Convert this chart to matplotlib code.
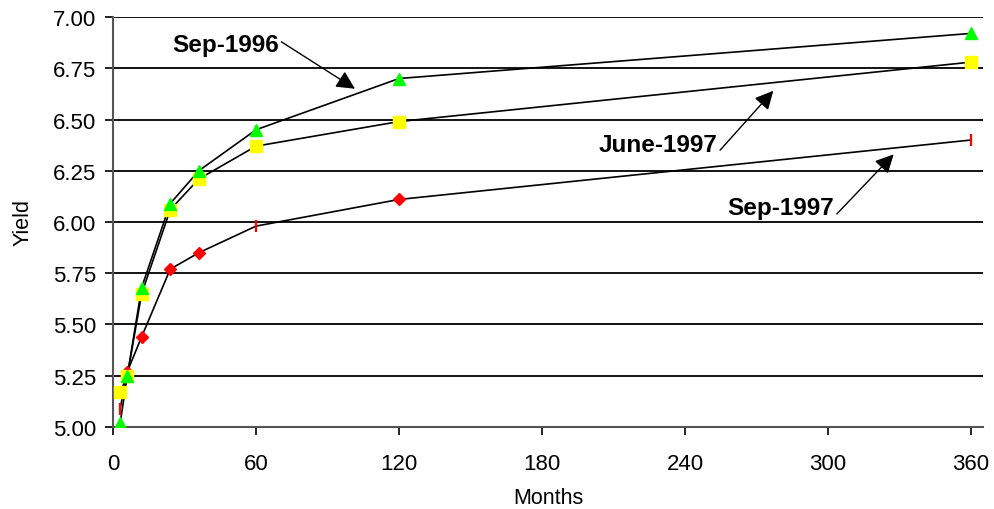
import numpy as np
import matplotlib
matplotlib.use('Agg')
import matplotlib.pyplot as plt

plt.rcParams['font.family'] = ['Liberation Sans', 'DejaVu Sans']

# --- DATA ---
months = [3, 6, 12, 24, 36, 60, 120, 360]
sep_1996 = [5.02, 5.25, 5.68, 6.09, 6.25, 6.45, 6.70, 6.92]
june_1997 = [5.17, 5.25, 5.65, 6.06, 6.21, 6.37, 6.49, 6.78]
sep_1997 = [5.09, 5.27, 5.44, 5.77, 5.85, 5.98, 6.11, 6.40]

y_ticks = [5.00, 5.25, 5.50, 5.75, 6.00, 6.25, 6.50, 6.75, 7.00]
x_ticks = [0, 60, 120, 180, 240, 300, 360]

# --- PLOT ---
fig = plt.figure(figsize=(9.95, 5.1), dpi=100)
ax = fig.add_axes([0.1136, 0.1608, 0.8744, 0.8039])

for yt in y_ticks:
    ax.axhline(yt, color='black', lw=1.3, zorder=1)

# Sep-1997 (red)
ax.plot(months, sep_1997, color='black', lw=1.2, zorder=2)
ax.plot(months, sep_1997, ls='none', marker='D', ms=6, color='#ff0000',
        markevery=[1, 2, 3, 4, 6], zorder=3)
ax.plot(months, sep_1997, ls='none', marker='|', ms=9, mew=1.6, color='#ff0000',
        markevery=[0, 5, 7], zorder=3)

# June-1997 (yellow)
ax.plot(months, june_1997, color='black', lw=1.2, zorder=2)
ax.plot(months, june_1997, ls='none', marker='s', ms=8, color='#ffff00', zorder=4)

# Sep-1996 (green)
ax.plot(months, sep_1996, color='black', lw=1.2, zorder=2)
ax.plot(months, sep_1996, ls='none', marker='^', ms=8, color='#00ff00', zorder=5)

ax.set_xlim(0, 365)
ax.set_ylim(5.0, 7.0)
ax.set_xticks(x_ticks)
ax.set_yticks(y_ticks)
ax.set_yticklabels(['%.2f' % v for v in y_ticks])
ax.tick_params(direction='out', length=6, width=1.2, labelsize=16, colors='black')
ax.tick_params(axis='x', pad=13)
ax.tick_params(axis='y', pad=6)

for s in ['top', 'right']:
    ax.spines[s].set_visible(False)
for s in ['left', 'bottom']:
    ax.spines[s].set_color('#555555')
    ax.spines[s].set_linewidth(1.5)

ax.set_xlabel('Months', fontsize=15.5, labelpad=9)
ax.set_ylabel('Yield', fontsize=15.5, labelpad=14)

arrow = dict(arrowstyle='-|>', color='black', lw=1.0, mutation_scale=28,
             shrinkA=0, shrinkB=0)
ax.annotate('Sep-1996', xy=(101.5, 6.65), xytext=(69.5, 6.865),
            ha='right', va='center', fontsize=17.5, fontweight='bold',
            arrowprops=dict(arrow, relpos=(1.0, 0.7)))
ax.annotate('June-1997', xy=(277, 6.64), xytext=(253.5, 6.38),
            ha='right', va='center', fontsize=17.5, fontweight='bold',
            arrowprops=dict(arrow, relpos=(1.0, 0.1)))
ax.annotate('Sep-1997', xy=(327.5, 6.33), xytext=(302.5, 6.07),
            ha='right', va='center', fontsize=17.5, fontweight='bold',
            arrowprops=dict(arrow, relpos=(1.0, 0.1)))

fig.savefig('out.png', dpi=100)
